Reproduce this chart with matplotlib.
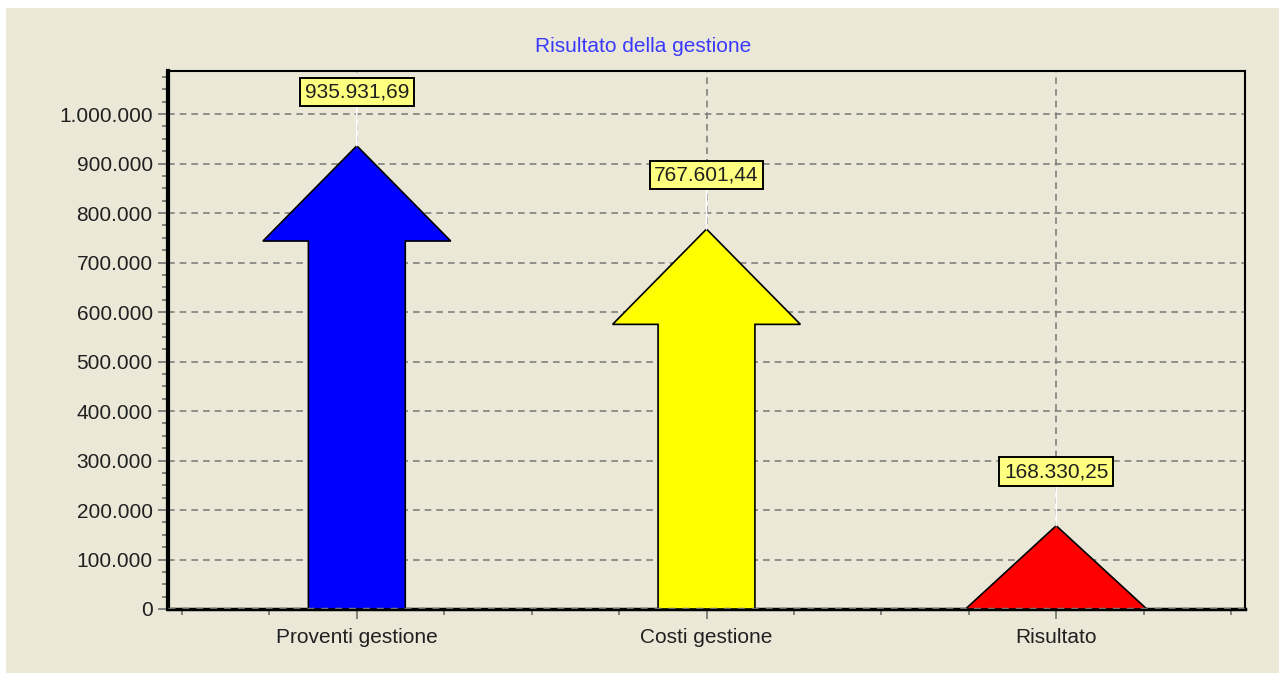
import matplotlib.pyplot as plt
from matplotlib.patches import Polygon, Rectangle
from matplotlib.ticker import MultipleLocator, FuncFormatter

categories = ['Proventi gestione', 'Costi gestione', 'Risultato']
values     = [935931.69, 767601.44, 168330.25]
colors     = ['#0000FF', '#FFFF00', '#FF0000']
labels     = ['935.931,69', '767.601,44', '168.330,25']

bg        = '#EBE8D8'
shaft_w   = 0.277
head_w    = 0.537
head_len  = 192500

plt.rcParams['font.family'] = ['Liberation Sans', 'DejaVu Sans']

fig = plt.figure(figsize=(12.79, 6.73), dpi=100)
fig.patch.set_facecolor('white')
fig.add_artist(Rectangle((6 / 1279, 0), 1, 1 - 8 / 673, transform=fig.transFigure,
                         facecolor=bg, edgecolor='none', zorder=-10))

ax = fig.add_axes([168 / 1279, 1 - 609 / 673, (1245 - 168) / 1279, (609 - 71) / 673])
ax.set_facecolor(bg)
ax.set_xlim(-0.54, 2.54)
ax.set_ylim(0, 1087000)

# arrows
for i, (v, c) in enumerate(zip(values, colors)):
    if v > head_len:
        base = v - head_len
        pts = [(i - shaft_w / 2, 0), (i - shaft_w / 2, base), (i - head_w / 2, base),
               (i, v), (i + head_w / 2, base), (i + shaft_w / 2, base), (i + shaft_w / 2, 0)]
    else:
        pts = [(i - head_w / 2 * 0.965, 0), (i, v), (i + head_w / 2 * 0.965, 0)]
    ax.add_patch(Polygon(pts, closed=True, facecolor=c, edgecolor='black', lw=1.2, zorder=3))
    ax.annotate(labels[i], xy=(i, v), xytext=(0, 39), textcoords='offset points',
                ha='center', va='center', fontsize=15, color='#202020', zorder=5,
                bbox=dict(boxstyle='square,pad=0.22', fc='#FFFF80', ec='black', lw=1.4),
                arrowprops=dict(arrowstyle='-', color='white', lw=1.2,
                                shrinkA=0, shrinkB=0))

# grid
ax.yaxis.set_major_locator(MultipleLocator(100000))
ax.yaxis.set_minor_locator(MultipleLocator(25000))
ax.set_xticks(range(len(categories)))
ax.set_xticklabels(categories)
ax.xaxis.set_minor_locator(MultipleLocator(0.25))
ax.grid(True, which='major', color='#808080', linestyle=(0, (4, 3)), lw=1.2, zorder=1)
ax.set_axisbelow(True)
ax.yaxis.set_major_formatter(FuncFormatter(lambda v, p: f'{int(v):,}'.replace(',', '.')))

ax.tick_params(axis='both', which='major', labelsize=15, labelcolor='#202020',
               color='#707070', length=7, width=1.2)
ax.tick_params(axis='both', which='minor', color='#707070', length=4, width=1.2)
ax.tick_params(axis='x', pad=7)
ax.tick_params(axis='y', pad=4)

for s in ['top', 'right']:
    ax.spines[s].set_linewidth(1.5)
ax.spines['left'].set_linewidth(3)
ax.spines['bottom'].set_linewidth(2.5)
ax.axhline(0, color='#707070', linestyle=(0, (2, 2)), lw=2.5, zorder=4)

fig.text(643 / 1279, 1 - 46 / 673, 'Risultato della gestione', ha='center', va='center',
         fontsize=15, color='#3A3AFF')

fig.savefig('out.png', dpi=100, facecolor=fig.get_facecolor())
